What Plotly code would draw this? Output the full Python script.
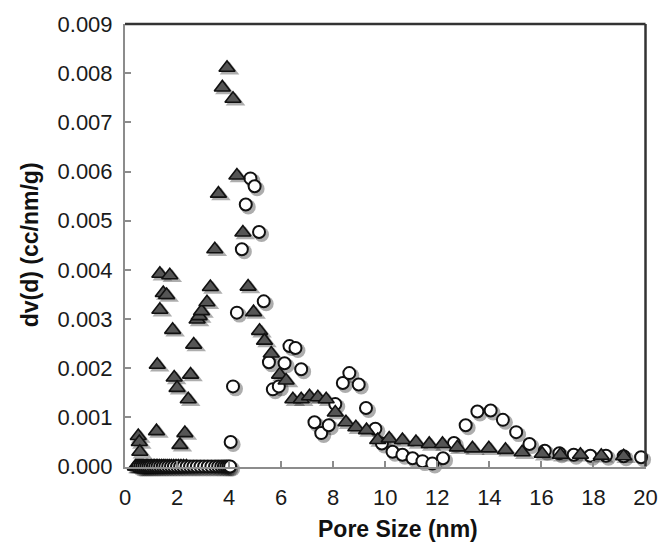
import plotly.graph_objects as go

# ---- data ----
# triangles (dark filled)
tri_x = [0.51, 0.55, 0.57, 1.21, 1.24, 1.34, 1.34, 1.47, 1.60, 1.72, 1.83, 1.89, 2.00,
         2.11, 2.30, 2.43, 2.52, 2.64, 2.77, 2.85, 2.94, 3.15, 3.28, 3.45, 3.59, 3.74,
         3.92, 4.15, 4.30, 4.53, 4.73, 4.94, 5.17, 5.36, 5.62, 5.94, 6.19, 6.45, 6.77,
         7.09, 7.41, 7.73, 8.08, 8.49, 8.87, 9.28, 9.71, 10.15, 10.66, 11.18, 11.69,
         12.20, 12.77, 13.35, 13.98, 14.62, 15.26, 16.03, 16.73, 17.50, 18.30, 19.16]
tri_y = [0.00062, 0.00050, 0.00030, 0.00072, 0.00207, 0.00392, 0.00319, 0.00353, 0.00349,
         0.00389, 0.00278, 0.00181, 0.00160, 0.00044, 0.00068, 0.00137, 0.00187, 0.00248,
         0.00299, 0.00306, 0.00316, 0.00334, 0.00365, 0.00442, 0.00555, 0.00771, 0.00811,
         0.00748, 0.00592, 0.00476, 0.00366, 0.00314, 0.00276, 0.00256, 0.00230, 0.00187,
         0.00175, 0.00137, 0.00137, 0.00143, 0.00141, 0.00137, 0.00110, 0.00090, 0.00080,
         0.00074, 0.00054, 0.00057, 0.00054, 0.00050, 0.00046, 0.00046, 0.00039, 0.00037,
         0.00037, 0.00034, 0.00029, 0.00026, 0.00024, 0.00024, 0.00022, 0.00021]
# triangles lying on the zero line
tri0_x = [0.40, 0.44, 0.48, 0.52, 0.56, 0.60, 0.64, 0.68, 0.72, 0.77, 0.82, 0.87, 0.92,
          0.97, 1.02, 1.08, 1.14, 1.20, 1.26, 1.33, 1.40, 1.47, 1.54, 1.62, 1.70, 1.78,
          1.87, 1.96, 2.05, 2.15, 2.25, 2.36]
tri0_y = [0.0] * len(tri0_x)

# circles (open)
cir_x = [4.06, 4.15, 4.30, 4.49, 4.64, 4.82, 4.98, 5.15, 5.33, 5.53, 5.68, 5.91, 6.13,
         6.32, 6.55, 6.77, 7.28, 7.54, 7.83, 8.08, 8.37, 8.62, 8.98, 9.26, 9.62, 9.87,
         10.28, 10.66, 11.05, 11.43, 11.81, 12.22, 12.64, 13.09, 13.54, 14.05, 14.52,
         15.03, 15.54, 16.13, 16.69, 17.24, 17.88, 18.48, 19.16, 19.83]
cir_y = [0.00050, 0.00163, 0.00313, 0.00442, 0.00533, 0.00586, 0.00570, 0.00477, 0.00336,
         0.00212, 0.00157, 0.00163, 0.00210, 0.00245, 0.00241, 0.00198, 0.00090, 0.00068,
         0.00084, 0.00127, 0.00170, 0.00190, 0.00167, 0.00119, 0.00077, 0.00047, 0.00030,
         0.00024, 0.00017, 0.00011, 0.00006, 0.00017, 0.00048, 0.00084, 0.00112, 0.00114,
         0.00095, 0.00070, 0.00046, 0.00032, 0.00027, 0.00024, 0.00022, 0.00022, 0.00021,
         0.00019]
# circles lying on the zero line
cir0_x = [0.50, 0.58, 0.66, 0.74, 0.82, 0.90, 0.98, 1.07, 1.16, 1.25, 1.35, 1.45, 1.55,
          1.66, 1.77, 1.88, 2.00, 2.12, 2.24, 2.37, 2.50, 2.63, 2.76, 2.90, 3.04, 3.18,
          3.32, 3.46, 3.58, 3.70, 3.80, 3.89, 3.97, 4.04]
cir0_y = [0.0] * len(cir0_x)

x_ticks = [0, 2, 4, 6, 8, 10, 12, 14, 16, 18, 20]
y_ticks = [0.000, 0.001, 0.002, 0.003, 0.004, 0.005, 0.006, 0.007, 0.008, 0.009]

x_title = "Pore Size (nm)"
y_title = "dv(d) (cc/nm/g)"

# ---- figure ----
FONT = "Liberation Sans, Arial, Helvetica, sans-serif"
W, H = 672, 547
SH = 2.5  # shadow offset in px
L, R, T, B = 125, 25 - SH, 15, 80 - SH
PW, PH = W - L - R, H - T - B
fx, fy = SH / PW, SH / PH

tri_marker = dict(symbol="triangle-up", size=14, color="#555555",
                  line=dict(color="#111111", width=1.6))
cir_marker = dict(symbol="circle", size=12, color="white",
                  line=dict(color="#111111", width=2))
tri_shadow = dict(symbol="triangle-up", size=17, color="rgba(0,0,0,0.32)", line=dict(width=0))
cir_shadow = dict(symbol="circle", size=15, color="rgba(0,0,0,0.32)", line=dict(width=0))

fig = go.Figure()
# drop shadows on a hidden subplot whose domain is shifted a few px right/down
for xs, ys, mk in [(tri0_x, tri0_y, tri_shadow), (cir0_x, cir0_y, cir_shadow),
                   (cir_x, cir_y, cir_shadow), (tri_x, tri_y, tri_shadow)]:
    fig.add_trace(go.Scatter(x=xs, y=ys, mode="markers", marker=mk, xaxis="x",
                             yaxis="y", cliponaxis=False, showlegend=False,
                             hoverinfo="skip"))
# the marks themselves on the visible subplot
for xs, ys, mk in [(tri0_x, tri0_y, tri_marker), (cir0_x, cir0_y, cir_marker),
                   (cir_x, cir_y, cir_marker), (tri_x, tri_y, tri_marker)]:
    fig.add_trace(go.Scatter(x=xs, y=ys, mode="markers", marker=mk, xaxis="x2",
                             yaxis="y2", cliponaxis=False, showlegend=False))

axcommon = dict(showgrid=False, zeroline=False, showline=True, linecolor="#8c8c8c",
                linewidth=2, ticks="inside", ticklen=6, tickwidth=1.5,
                tickcolor="#8c8c8c", tickfont=dict(size=22))

fig.update_layout(
    width=W, height=H,
    margin=dict(l=L, r=R, t=T, b=B),
    plot_bgcolor="rgba(0,0,0,0)", paper_bgcolor="white",
    font=dict(family=FONT, color="#1a1a1a", size=22),
    xaxis=dict(range=[0, 20], domain=[fx, 1], anchor="y", visible=False),
    yaxis=dict(range=[0, 0.009], domain=[0, 1 - fy], anchor="x", visible=False),
    xaxis2=dict(range=[0, 20], domain=[0, 1 - fx], anchor="y2",
                tickvals=x_ticks, ticktext=[str(v) for v in x_ticks],
                ticklabelstandoff=10, **axcommon),
    yaxis2=dict(range=[0, 0.009], domain=[fy, 1], anchor="x2",
                tickvals=y_ticks, ticktext=[f"{v:.3f}" for v in y_ticks],
                ticklabelstandoff=6, **axcommon),
    shapes=[
        dict(type="line", xref="x2 domain", yref="y2 domain", x0=0, x1=1, y0=1, y1=1,
             line=dict(color="#333333", width=2.5)),
        dict(type="line", xref="x2 domain", yref="y2 domain", x0=1, x1=1, y0=0, y1=1,
             line=dict(color="#333333", width=2.5)),
    ],
    annotations=[
        dict(text=f"<b>{x_title}</b>", xref="x2 domain", yref="y2 domain", x=0.525, y=0,
             yshift=-62, showarrow=False, font=dict(size=23, color="#111111"),
             xanchor="center", yanchor="middle"),
        dict(text=f"<b>{y_title}</b>", xref="x2 domain", yref="y2 domain", x=0, y=0.5,
             xshift=-95, showarrow=False, textangle=-90,
             font=dict(size=23, color="#111111"), xanchor="center", yanchor="middle"),
    ],
)

fig.write_html("out.html")
